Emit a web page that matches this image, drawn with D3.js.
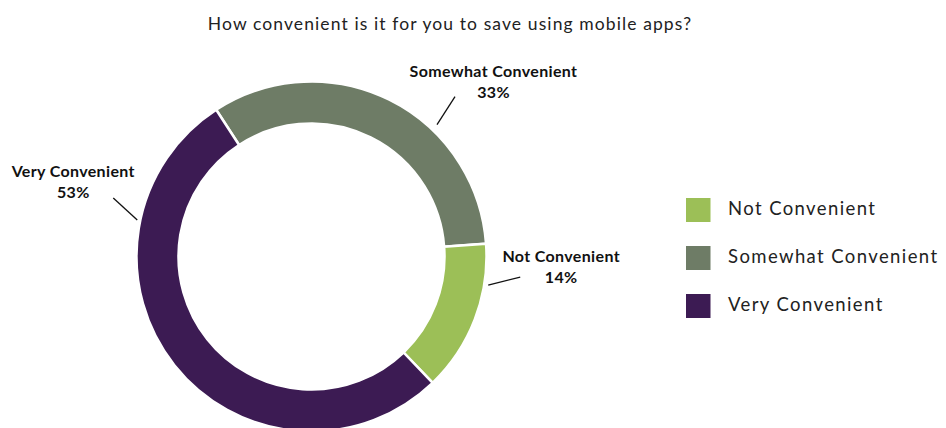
<!DOCTYPE html>
<html>
<head>
<meta charset="utf-8">
<script src="https://cdn.jsdelivr.net/npm/d3@7"></script>
<style>
  html, body { margin: 0; padding: 0; background: #fff; }
  svg { display: block; font-family: Lato, "Open Sans", sans-serif; }
</style>
</head>
<body>
<svg id="chart" width="946" height="428"></svg>
<script>
// Survey answers and their shares (%)
const categories = ["Not Convenient", "Somewhat Convenient", "Very Convenient"];
const values = [14, 33, 53];
const colors = ["#9cbf57", "#6e7c66", "#3c1b53"];
// Clockwise drawing order of the ring, starting near 12 o'clock
const ringOrder = ["Somewhat Convenient", "Not Convenient", "Very Convenient"];
const title = "How convenient is it for you to save using mobile apps?";

// Layout
const cx = 311.5, cy = 256.5;
const outerR = 175, innerR = 133;
const startDeg = -33;
// Connector: leaves the ring at `angle` (deg, clockwise from top), runs by (lx, ly);
// label is centred at connector end + (dx, dy)
const labelLayout = {
  "Somewhat Convenient": { angle: 43.6, r: 182, lx: 18, ly: -28, dx: 38.5, dy: -20 },
  "Not Convenient":      { angle: 99.2, r: 179, lx: 32, ly: -8,  dx: 41,   dy: -15 },
  "Very Convenient":     { angle: -78.2, r: 178, lx: -24, ly: -22, dx: -40, dy: -21 }
};

const svg = d3.select("#chart");
const rad = d => d * Math.PI / 180;

const color = d3.scaleOrdinal().domain(categories).range(colors);
const records = ringOrder.map(name => ({ name, value: values[categories.indexOf(name)] }));

const pie = d3.pie()
  .sort(null)
  .value(d => d.value)
  .startAngle(rad(startDeg))
  .endAngle(rad(startDeg) + 2 * Math.PI);

const arc = d3.arc().innerRadius(innerR).outerRadius(outerR);

// Title
svg.append("text")
  .attr("x", 450).attr("y", 30)
  .attr("text-anchor", "middle")
  .attr("font-size", 17.5)
  .attr("letter-spacing", 1.1)
  .attr("fill", "#222")
  .text(title);

const g = svg.append("g").attr("transform", `translate(${cx},${cy})`);

g.selectAll("path.slice")
  .data(pie(records))
  .join("path")
  .attr("class", "slice")
  .attr("d", arc)
  .attr("fill", d => color(d.data.name))
  .attr("stroke", "#fff")
  .attr("stroke-width", 2.5);

// Data labels with connectors
const polar = (deg, r) => [Math.sin(rad(deg)) * r, -Math.cos(rad(deg)) * r];
records.forEach(rec => {
  const L = labelLayout[rec.name];
  const [x1, y1] = polar(L.angle, L.r);
  const x2 = x1 + L.lx, y2 = y1 + L.ly;
  g.append("line")
    .attr("x1", x1).attr("y1", y1)
    .attr("x2", x2).attr("y2", y2)
    .attr("stroke", "#111").attr("stroke-width", 1.3);
  const t = g.append("text")
    .attr("text-anchor", "middle")
    .attr("font-weight", "bold")
    .attr("font-size", 16)
    .attr("letter-spacing", 0.35)
    .attr("fill", "#111");
  t.append("tspan").attr("x", x2 + L.dx).attr("y", y2 + L.dy).text(rec.name);
  t.append("tspan").attr("x", x2 + L.dx).attr("y", y2 + L.dy + 21).text(rec.value + "%");
});

// Legend
const legend = svg.append("g").attr("transform", "translate(686,198)");
const item = legend.selectAll("g")
  .data(categories)
  .join("g")
  .attr("transform", (d, i) => `translate(0,${i * 48})`);
item.append("rect")
  .attr("width", 24.5).attr("height", 24)
  .attr("fill", d => color(d));
item.append("text")
  .attr("x", 42).attr("y", 17)
  .attr("font-size", 18.5)
  .attr("letter-spacing", 1.4)
  .attr("fill", "#222")
  .text(d => d);
</script>
</body>
</html>
